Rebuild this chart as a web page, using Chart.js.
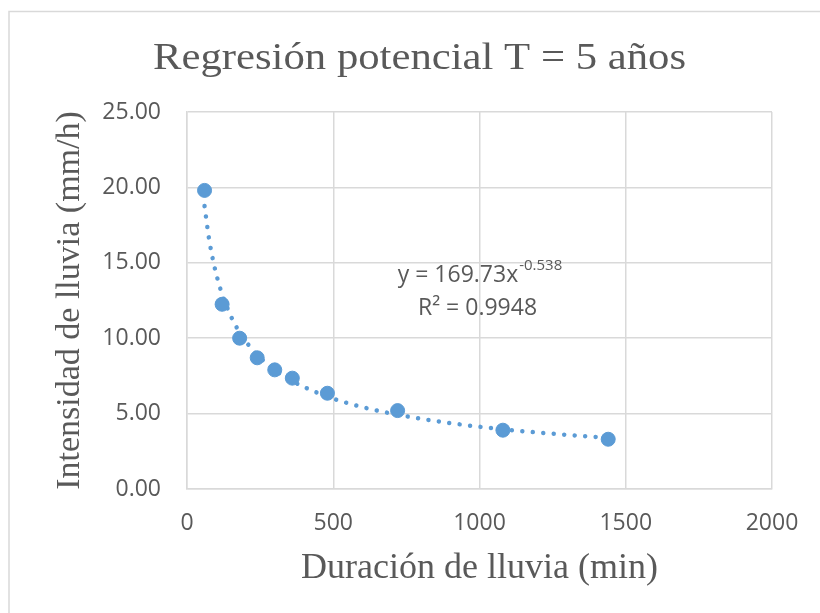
<!DOCTYPE html>
<html>
<head>
<meta charset="utf-8">
<script src="https://cdn.jsdelivr.net/npm/chart.js@4.4.1/dist/chart.umd.min.js"></script>
<style>
  html, body { margin: 0; padding: 0; background: #fff; }
  #wrap { width: 820px; height: 613px; position: relative; }
</style>
</head>
<body>
<div id="wrap"><canvas id="chart"></canvas></div>
<script>
// duration (min) and intensity (mm/h)
const duracion = [60, 120, 180, 240, 300, 360, 480, 720, 1080, 1440];
const intensidad = [19.8, 12.25, 10.0, 8.7, 7.9, 7.35, 6.35, 5.2, 3.9, 3.3];

// trendline values
const trendX = [60, 75, 90, 105, 120, 150, 180, 210, 240, 300, 360, 480, 600, 720, 900, 1080, 1260, 1440];
const trendY = [18.76, 16.63, 15.08, 13.88, 12.92, 11.46, 10.38, 9.56, 8.90, 7.89, 7.15, 6.13, 5.43, 4.93, 4.37, 3.96, 3.65, 3.39];

const xTicks = [0, 500, 1000, 1500, 2000];
const yTicks = [0, 5, 10, 15, 20, 25];

const titulo = 'Regresión potencial T = 5 años';
const ecuacion = 'y = 169.73x';
const exponente = '-0.538';
const r2 = 'R² = 0.9948';

const grey = '#595959';
const gridColor = '#d9d9d9';
const blue = '#5b9bd5';

const points = duracion.map((d, i) => ({x: d, y: intensidad[i]}));
const trend = trendX.map((d, i) => ({x: d, y: trendY[i]}));

// outer frame of the chart like the excel chart border
const framePlugin = {
    id: 'frame',
    beforeDraw(chart) {
        const ctx = chart.ctx;
        ctx.save();
        ctx.fillStyle = '#fff';
        ctx.fillRect(0, 0, chart.width, chart.height);
        ctx.strokeStyle = '#d9d9d9';
        ctx.lineWidth = 1.5;
        ctx.beginPath();
        ctx.moveTo(9, chart.height + 5);
        ctx.lineTo(9, 11.5);
        ctx.lineTo(chart.width + 5, 11.5);
        ctx.stroke();
        ctx.restore();
    }
};

// title, a bit wider than the plain font like in the excel export
const titlePlugin = {
    id: 'wideTitle',
    afterDraw(chart) {
        const ctx = chart.ctx;
        ctx.save();
        ctx.fillStyle = grey;
        ctx.font = '37px "Liberation Serif"';
        ctx.textAlign = 'center';
        ctx.textBaseline = 'alphabetic';
        const w = ctx.measureText(titulo).width;
        ctx.translate(419.5, 69);
        ctx.scale(533 / w, 1);
        ctx.fillText(titulo, 0, 0);
        ctx.restore();
    }
};

// regression label
const labelPlugin = {
    id: 'eqLabel',
    afterDatasetsDraw(chart) {
        const ctx = chart.ctx;
        const xs = chart.scales.x, ys = chart.scales.y;
        const cx = xs.getPixelForValue(1000);
        const y1 = ys.getPixelForValue(14.15);
        const y2 = ys.getPixelForValue(11.95);
        ctx.save();
        ctx.fillStyle = grey;
        ctx.textBaseline = 'middle';
        ctx.font = '23px "Open Sans"';
        const w1 = ctx.measureText(ecuacion).width;
        ctx.font = '15px "Open Sans"';
        const w2 = ctx.measureText(exponente).width;
        let x0 = cx - (w1 + w2) / 2;
        ctx.textAlign = 'left';
        ctx.font = '23px "Open Sans"';
        ctx.fillText(ecuacion, x0, y1);
        ctx.font = '15px "Open Sans"';
        ctx.fillText(exponente, x0 + w1 + 1, y1 - 10);
        ctx.font = '23px "Open Sans"';
        ctx.textAlign = 'center';
        ctx.fillText(r2, cx - 2, y2);
        ctx.restore();
    }
};

const config = {
    type: 'scatter',
    data: {
        datasets: [
            {
                label: 'Tendencia',
                type: 'line',
                data: trend,
                borderColor: blue,
                borderWidth: 4.5,
                borderDash: [0.01, 10.5],
                borderCapStyle: 'round',
                pointRadius: 0,
                tension: 0.4,
                cubicInterpolationMode: 'monotone',
                fill: false,
                order: 2
            },
            {
                label: 'Intensidad',
                data: points,
                backgroundColor: blue,
                borderColor: blue,
                pointRadius: 7,
                pointHoverRadius: 7,
                order: 1
            }
        ]
    },
    options: {
        responsive: false,
        animation: false,
        devicePixelRatio: 1,
        layout: {
            padding: {left: 46, right: 48, top: 112, bottom: 14}
        },
        plugins: {
            legend: {display: false},
            tooltip: {enabled: false},
            title: {display: false}
        },
        scales: {
            x: {
                type: 'linear',
                min: 0,
                max: 2000,
                afterBuildTicks(scale) {
                    scale.ticks = xTicks.map(v => ({value: v}));
                },
                afterFit(scale) { scale.height = 110; },
                ticks: {
                    color: grey,
                    font: {family: '"Open Sans"', size: 23},
                    padding: 21,
                    callback: v => String(v)
                },
                grid: {color: gridColor, lineWidth: 1.5, drawTicks: false},
                border: {color: gridColor, width: 1.5},
                title: {
                    display: true,
                    text: 'Duración de lluvia (min)',
                    color: grey,
                    font: {family: '"Liberation Serif"', size: 36, weight: 'normal'},
                    padding: {top: 0, bottom: 9}
                }
            },
            y: {
                type: 'linear',
                min: 0,
                max: 25,
                afterBuildTicks(scale) {
                    scale.ticks = yTicks.map(v => ({value: v}));
                },
                afterFit(scale) { scale.width = 141; },
                ticks: {
                    color: grey,
                    font: {family: '"Open Sans"', size: 23},
                    padding: 26,
                    callback: v => v.toFixed(2)
                },
                grid: {color: gridColor, lineWidth: 1.5, drawTicks: false},
                border: {color: gridColor, width: 1.5},
                title: {
                    display: true,
                    text: 'Intensidad de lluvia (mm/h)',
                    color: grey,
                    font: {family: '"Liberation Serif"', size: 34, weight: 'normal'},
                    padding: {top: 4, bottom: 0}
                }
            }
        }
    },
    plugins: [framePlugin, titlePlugin, labelPlugin]
};

const canvas = document.getElementById('chart');
canvas.width = 820;
canvas.height = 613;
new Chart(canvas, config);
</script>
</body>
</html>
